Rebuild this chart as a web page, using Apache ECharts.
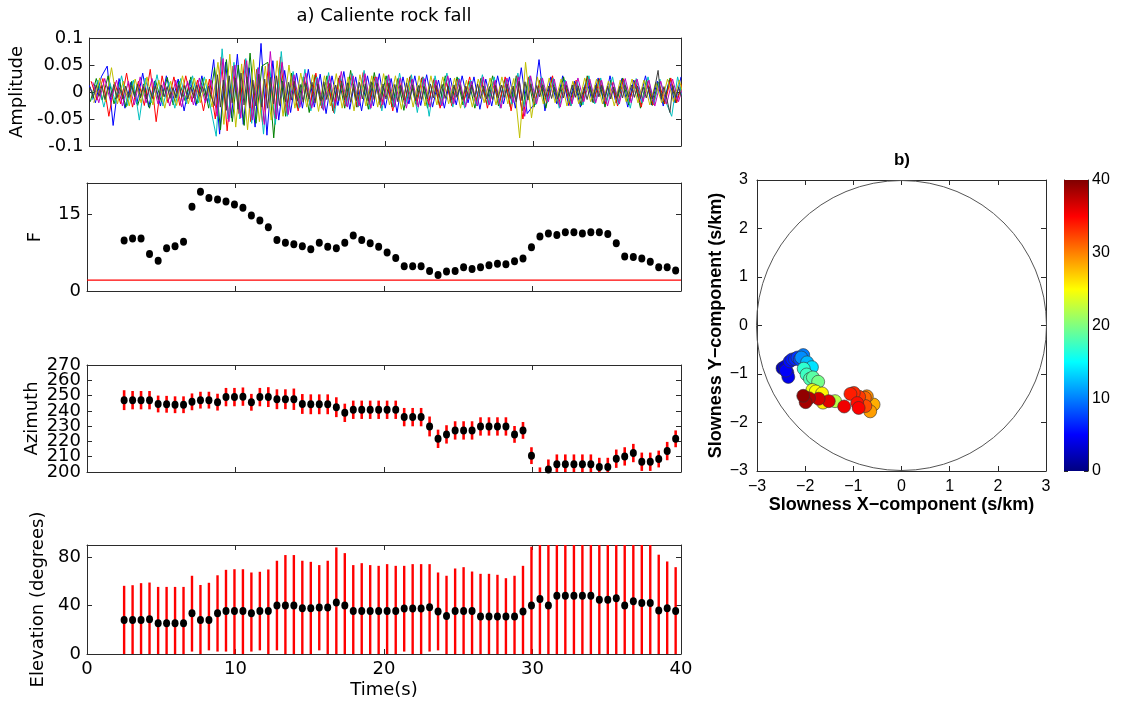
<!DOCTYPE html>
<html>
<head>
<meta charset="utf-8">
<title>Caliente rock fall</title>
<script src="https://cdn.jsdelivr.net/npm/echarts@6/dist/echarts.min.js"></script>
<style>
  html, body { margin: 0; padding: 0; background: #fff; }
  #chart { width: 1122px; height: 703px; }
</style>
</head>
<body>
<div id="chart"></div>
<script>
// ---- beam-forming estimates, one per analysis window (s) ----
const times = [2.5, 3.07, 3.64, 4.21, 4.79, 5.36, 5.93, 6.5, 7.07, 7.64,
  8.21, 8.79, 9.36, 9.93, 10.5, 11.07, 11.64, 12.21, 12.79, 13.36,
  13.93, 14.5, 15.07, 15.64, 16.21, 16.79, 17.36, 17.93, 18.5, 19.07,
  19.64, 20.21, 20.79, 21.36, 21.93, 22.5, 23.07, 23.64, 24.21, 24.79,
  25.36, 25.93, 26.5, 27.07, 27.64, 28.21, 28.79, 29.36, 29.93, 30.5,
  31.07, 31.64, 32.21, 32.79, 33.36, 33.93, 34.5, 35.07, 35.64, 36.21,
  36.79, 37.36, 37.93, 38.5, 39.07, 39.64];

const fStat = [9.8, 10.2, 10.2, 7.2, 5.9, 8.3, 8.7, 9.6, 16.4, 19.3,
  18.1, 17.8, 17.4, 16.8, 16.2, 14.7, 13.7, 12.4, 9.9, 9.4,
  9.1, 8.7, 8.1, 9.4, 8.6, 8.3, 9.4, 10.8, 9.9, 9.3,
  8.6, 7.5, 6.4, 4.8, 4.8, 4.8, 3.9, 3.1, 3.8, 3.9,
  4.6, 4.3, 4.6, 5.0, 5.3, 5.2, 5.8, 6.3, 8.5, 10.6,
  11.2, 10.9, 11.4, 11.4, 11.2, 11.4, 11.4, 11.1, 9.3, 6.7,
  6.6, 6.3, 5.7, 4.6, 4.6, 4.0];
const fThreshold = 2.1;

const azimuth = [247, 247, 247, 247, 244.5, 244.3, 244, 244, 245.9, 247,
  247, 245.7, 249, 249, 249.3, 245.6, 249, 249, 247.6, 247.6,
  247.6, 244.5, 244.3, 244.3, 244.3, 242.4, 238.7, 240.7, 240.7, 240.7,
  240.7, 240.7, 240.7, 235.9, 235.9, 235.9, 229.8, 221.7, 224.6, 227.2,
  227.2, 227.2, 229.8, 229.8, 229.8, 229.8, 224.6, 227.2, 210.7, 197,
  201.7, 205, 205, 205, 205, 205, 203.3, 203.3, 208.7, 210.2,
  212.4, 206.7, 206.7, 208.5, 213.7, 221.7];
const azimuthErr = [6.5, 6, 6, 6, 5.5, 5.5, 5.5, 5.5, 5.5, 5.5,
  5.5, 5.5, 6, 6, 6, 5.5, 6, 6.5, 6.5, 6.5,
  7, 6.5, 6.5, 6.5, 6.5, 6.5, 6, 6, 6, 6,
  6, 6, 6, 6, 6, 6, 6.5, 6, 6, 6,
  6, 6, 6, 6, 6, 6, 5.5, 5.5, 5.5, 6,
  6.5, 6.5, 6.5, 6.5, 6.5, 6.5, 6, 6, 6, 6,
  6, 6, 6, 5.5, 6, 5.5];
const azimuthTicks = [200, 210, 220, 230, 240, 250, 260, 270];

const elevation = [28.1, 28, 28, 28.7, 25.4, 25.4, 25.4, 25.4, 33.7, 28.1,
  28.1, 33.7, 35.6, 35.6, 35.6, 33.7, 35.6, 35.6, 40, 40,
  40, 37.8, 37.8, 38.3, 38.3, 42.5, 40, 35.6, 35.6, 35.6,
  35.6, 35.6, 35.6, 37.5, 37.5, 37.5, 38.6, 35, 31.4, 35.6,
  35.6, 35.6, 30.9, 30.9, 30.9, 30.9, 30.9, 35, 40, 45.5,
  40, 48, 48, 48, 48, 48, 44.7, 44.7, 46, 40,
  43.6, 42.2, 42.2, 35.9, 37.8, 35.6];
const elevationHigh = [56.3, 56.8, 58.5, 59, 55.4, 55.4, 55.4, 55.4, 64.6, 57,
  58.8, 65, 69.5, 70, 70, 67.3, 67.9, 69.8, 77, 81.7,
  81.7, 77, 76.1, 73.4, 77, 88, 83.3, 73.4, 75, 73.4,
  72.8, 74.2, 72.8, 72.8, 74.2, 74.2, 74.2, 67.3, 64.6, 70.6,
  71.7, 68.1, 66.2, 66.2, 65.4, 62.6, 64.6, 72.8, 88.6, 95,
  95, 95, 95, 95, 95, 95, 95, 95, 95, 95,
  95, 95, 95, 82, 76.4, 71.7];
const elevationLow = [0, 0, 0, 0, 0, 0, 0, 0, 2, 0,
  3, 2, 2, 0, 0, 2, 3, 0, 3, 0,
  0, 0, 0, 3, 0, 0, 0, 0, 0, 0,
  0, 0, 0, 2, 0, 0, 2, 3, 0, 0,
  0, 0, 0, 0, 0, 0, 0, 0, 0, 0,
  0, 0, 0, 0, 0, 0, 0, 0, 0, 0,
  0, 0, 0, 0, 0, 0];

// ---- array waveforms (amplitude in thousandths) ----
const traceScale = 0.001;
const traceStep = [0.4, 0.4, 0.4, 0.4, 0.4, 0.4, 0.2];
const traceStart = [0, 0.06, 0.11, 0.17, 0.23, 0.29, 0.05];
const traceColors = ['#0000ff', '#008000', '#ff0000', '#00bfbf', '#bf00bf', '#bfbf00', '#404040'];
const traceBlue = [12, -20, 28, 48, -62, 25, -30, 18, -22, 35, -28, 20, -26, 30, -18, 24, -35, 22, -25, 30, -20,
  60, -78, 55, -48, 70, -60, 45, -65, 90, -80, 58, -52, 40,
  -38, 35, -30, 42, -28, 33, -40, 30, -25, 38, -32, 28, -35, 30, -26, 34, -30, 25, -38, 28, -22, 30,
  -25, 32, -28, 22, -30, 26, -24, 30, -20, 28, -32, 24, -26, 30, -22, 28,
  -30, 45, -40,
  -25, 60, -35, 28, -22, 30, -25, 20, -28, 24, -18, 26, -22, 30, -20, 25, -28, 22, -18, 30, -24, 20, -26, 22, -20, 28];
const traceGreen = [-18, 25, -15, 30, -22, 18, -28, 20, -25, 15, -30, 22, -18, 27, -24, 20, -16, 28, -22, 25, -30,
  45, -70, 60, -55, 50, -62, 72, -58, 48, 55, -85, 50, -45,
  35, -30, 28, -38, 32, -25, 30, -35, 26, -30, 40, -28, 22, -32, 36, -24, 30, -28, 25, -34, 28, -22,
  26, -30, 22, -25, 30, -20, 28, -24, 20, -30, 25, -22, 30, -26, 22, -28,
  30, -35, 25,
  -28, 22, -30, 25, -20, 28, -22, 18, -25, 30, -20, 24, -28, 22, -18, 26, -24, 20, -30, 22, -25, 18, -22, 26, -20, 15];
const traceRed = [20, -15, 25, -45, 18, -22, 35, -28, 20, -25, 42, -55, 30, -20, 28, -25, 30, -18, 22, -35, 24,
  -50, 65, -72, 48, -40, 60, -55, 42, -60, 52, -48, 65, -38,
  30, -35, 28, -25, 35, -30, 22, -38, 30, -26, 32, -28, 36, -24, 28, -30, 22, -35, 26, -22, 30, -25,
  28, -22, 25, -30, 20, -26, 24, -18, 28, -22, 26, -30, 20, -24, 28, -35,
  30, -50, 28,
  -22, 25, -20, 30, -24, 18, -26, 22, -20, 28, -18, 25, -22, 20, -26, 24, -18, 22, -28, 20, -24, 18, -22, 26, -20, 18];
const traceCyan = [-15, 22, -28, 18, -20, 30, -25, 22, -52, 26, -20, 32, -26, 18, -30, 25, -22, 30, -20, 28, -26,
  -82, 80, -50, 55, -50, 62, -58, 45, -78, 52, -60, 75, -45,
  38, -30, 42, -35, 28, -32, 36, -40, 30, -26, 34, -28, 40, -32, 26, -35, 30, -28, 35, -26, 32, -38,
  28, -45, 30, -24, 35, -28, 26, -30, 22, -26, 32, -24, 28, -30, 24, -22,
  35, -28, 30,
  -24, 28, -20, 25, -30, 22, -26, 20, -24, 30, -22, 26, -20, 28, -24, 22, -30, 25, -20, 28, -22, 24, -18, -45, 28, -18];
const traceMagenta = [18, -20, 25, -18, 22, -26, 20, -24, 28, -20, 25, -22, 18, -26, 22, -28, 20, -24, 26, -20, 22,
  -45, 62, -55, 50, -48, 58, -52, 45, -60, 75, -50, 55, -42,
  32, -28, 35, -30, 26, -34, 30, -25, 38, -28, 30, -26, 34, -30, 28, -24, 32, -28, 26, -30, 24, -28,
  25, -28, 22, -26, 30, -22, 24, -28, 20, -26, 28, -24, 22, -30, 26, -20,
  28, -45, 30,
  -22, 26, -18, 24, -28, 20, -22, 26, -18, 24, -20, 22, -26, 18, -22, 25, -20, 24, -18, 22, -26, 20, -22, 24, -18, 20];
const traceYellow = [-20, 26, -18, 45, -22, 20, -26, 24, -20, 28, -24, 22, -30, 20, -25, 30, -22, 26, -20, 24, -28,
  55, -60, 70, -65, 52, -70, 60, -55, 48, -52, 58, -45, 50,
  -30, 35, -28, 32, -36, 30, -26, 34, -30, 28, -35, 32, -26, 30, -28, 34, -24, 30, -32, 26, -28, 30,
  -26, 30, -24, 28, -22, 26, -30, 22, -28, 24, -20, 26, -24, 28, -22, 25,
  -85, 55, -48,
  28, -22, 26, -20, 24, -26, 20, -22, 26, -18, 24, -22, 20, -26, 22, -18, 24, -20, 22, -24, 18, -20, 24, -18, 22, -20];
const traceGray = [9, -11, 13, -8, 12, -14, 10, -9, 14, -12, 8, -13, 11, -10, 12, -9, 14, -11, 10, -13,
  9, -12, 11, -14, 13, -9, 10, -12, 8, -11, 14, -10, 12, -13, 9, -11, 13, -8, 10, -12, 11, -9,
  -25, 32, -28, 22, -34, 30, -20, 26, -32, 35, -24, 28, -30, 22, -26, 33, -28, 24, -30, 27, -22, 30, -25, 20, -18,
  18, -15, 20, -17, 14, -19, 16, -13, 18, -20, 15, -17, 19, -14, 16, -18, 13, -16, 20, -15,
  17, -19, 14, -16, 18, -13, 15, -17, 19, -14, 16, -18, 15, -13, 17, -16, 14, -18, 12, -15, 17, -14, 13, -16,
  12, -14, 10, -13, 15, -11, 12, -10, 14, -12, 11, -15, 13, -10, 12, -14, 11, -12, 13, -10,
  15, -12, 11, -13, 10, -14, 12, -11, 13, -10, 14, -12, 11,
  -18, 20, -16, 19, -15, 14,
  -11, 12, -9, 13, -10, 11, -12, 9, -13, 10, -11, 12, -8, 13, -10, 11, -12, 9, -14, 10,
  -11, 13, -9, 12, -10, 11, -13, 9, -12, 10, -11, 12, -9, 13, -10, 11, -12, 9, -11, 10,
  -13, 11, 40, -12, 10, -14, -38, 12, -10, 9, -11];
const traces = [traceBlue, traceGreen, traceRed, traceCyan, traceMagenta, traceYellow, traceGray];

// ---- slowness vectors (s/km) coloured by window time (s) ----
const slowX = [-2.47, -2.42, -2.37, -2.35, -2.40, -2.32, -2.27, -2.21, -2.16, -2.11,
  -2.04, -2.08, -1.96, -1.86, -2.03, -1.97, -1.90, -1.84, -1.73, -1.38,
  -1.85, -1.78, -1.65, -1.63, -0.58, -0.65, -0.72, -0.76, -0.75, -0.88,
  -0.99, -1.06, -0.92, -0.89, -1.19, -1.51, -1.72, -1.92, -1.99, -2.04];
const slowY = [-0.88, -0.85, -0.97, -1.06, -0.93, -0.74, -0.70, -0.69, -0.66, -0.70,
  -0.61, -0.66, -0.76, -0.86, -0.89, -1.01, -1.10, -1.07, -1.16, -1.56,
  -1.33, -1.36, -1.40, -1.59, -1.63, -1.77, -1.46, -1.49, -1.66, -1.47,
  -1.39, -1.41, -1.60, -1.70, -1.67, -1.56, -1.51, -1.50, -1.58, -1.45];
const slowTime = [2.5, 3.1, 3.6, 4.2, 4.8, 5.4, 6.0, 6.5, 7.1, 7.6,
  9.9, 10.5, 12.2, 13.9, 16.8, 17.4, 18.0, 18.5, 19.6, 22.2,
  24.2, 24.8, 25.4, 26.0, 28.2, 28.8, 29.4, 31.0, 32.2, 32.8,
  33.4, 33.9, 34.5, 35.1, 35.6, 36.2, 36.8, 37.9, 38.5, 39.3];
const slownessRadius = 3;
const timeColorMax = 40;
const jetColors = ['#000080', '#0000ff', '#0080ff', '#00ffff', '#80ff80', '#ffff00', '#ff8000', '#ff0000', '#800000'];

// ---- styling ----
const AXIS = '#2b2b2b';
const LEFT_FONT = 'DejaVu Sans';
const RIGHT_FONT = 'Liberation Sans';
const minusSign = v => (v < 0 ? '\u2212' + Math.abs(v) : String(v));

function axisBase(extra) {
  return Object.assign({
    type: 'value',
    axisLine: { show: true, onZero: false, lineStyle: { color: AXIS, width: 1 } },
    axisTick: { show: true, inside: true, length: 5, lineStyle: { color: AXIS, width: 1 } },
    axisLabel: { show: false },
    splitLine: { show: false }
  }, extra);
}
const leftLabel = { show: true, fontFamily: LEFT_FONT, fontSize: 18, color: '#000', margin: 6, showMinLabel: true, showMaxLabel: true };
const leftName = { fontFamily: LEFT_FONT, fontSize: 18, color: '#000' };
const rightLabel = { show: true, fontFamily: RIGHT_FONT, fontSize: 16, color: '#000', showMinLabel: true, showMaxLabel: true };
const rightName = { fontFamily: RIGHT_FONT, fontSize: 18, fontWeight: 'bold', color: '#000' };

const grids = [
  { left: 87, top: 38, width: 594, height: 108 },   // waveforms
  { left: 87, top: 183, width: 594, height: 108 },  // F statistic
  { left: 87, top: 365, width: 594, height: 107 },  // azimuth
  { left: 87, top: 545, width: 594, height: 109 },  // elevation
  { left: 757, top: 180, width: 289, height: 291 }, // slowness plane
  { left: 1064, top: 180, width: 24, height: 291 }  // colour bar
];

// time axes: bottom + mirrored top for each of the four left panels
const xAxes = [];
for (let g = 0; g < 4; g++) {
  const bottom = axisBase({ gridIndex: g, position: 'bottom', min: 0, max: 40, interval: 10 });
  if (g === 3) {
    bottom.axisLabel = leftLabel;
    bottom.name = 'Time(s)';
    bottom.nameLocation = 'middle';
    bottom.nameGap = 27;
    bottom.nameTextStyle = leftName;
  }
  xAxes.push(bottom);
  xAxes.push(axisBase({ gridIndex: g, position: 'top', min: 0, max: 40, interval: 10 }));
}
xAxes.push(axisBase({
  gridIndex: 4, position: 'bottom', min: -3, max: 3, interval: 1,
  axisLabel: Object.assign({ formatter: minusSign, margin: 8 }, rightLabel),
  name: 'Slowness X\u2212component (s/km)', nameLocation: 'middle', nameGap: 25, nameTextStyle: rightName
}));
xAxes.push(axisBase({ gridIndex: 4, position: 'top', min: -3, max: 3, interval: 1 }));
xAxes.push({ type: 'category', gridIndex: 5, data: ['t'], show: false });

// the azimuth labels are tightly packed, so they are drawn by their own text series
const yLeftSpecs = [
  { min: -0.1, max: 0.1, interval: 0.05, name: 'Amplitude', gap: 63 },
  { min: 0, max: 21, interval: 15, name: 'F', gap: 43, only: [0, 15] },
  { min: 200, max: 270, interval: 10, name: 'Azimuth', gap: 46, noLabels: true },
  { min: 0, max: 90, interval: 40, name: 'Elevation (degrees)', gap: 37, only: [0, 40, 80] }
];
const yAxes = [];
yLeftSpecs.forEach((s, g) => {
  const label = Object.assign({}, leftLabel);
  if (s.only) label.formatter = v => (s.only.indexOf(v) >= 0 ? String(v) : '');
  if (s.noLabels) label.show = false;
  yAxes.push(axisBase({
    gridIndex: g, position: 'left', min: s.min, max: s.max, interval: s.interval,
    axisLabel: label, name: s.name, nameLocation: 'middle', nameGap: s.gap, nameTextStyle: leftName
  }));
  yAxes.push(axisBase({ gridIndex: g, position: 'right', min: s.min, max: s.max, interval: s.interval }));
});
yAxes.push(axisBase({
  gridIndex: 4, position: 'left', min: -3, max: 3, interval: 1,
  axisLabel: Object.assign({ formatter: minusSign, margin: 9 }, rightLabel),
  name: 'Slowness Y\u2212component (s/km)', nameLocation: 'middle', nameGap: 32, nameTextStyle: rightName
}));
yAxes.push(axisBase({ gridIndex: 4, position: 'right', min: -3, max: 3, interval: 1 }));
yAxes.push(axisBase({ gridIndex: 5, position: 'left', min: 0, max: timeColorMax, interval: 10, axisTick: { show: true, inside: true, length: 4, lineStyle: { color: AXIS } } }));
yAxes.push(axisBase({
  gridIndex: 5, position: 'right', min: 0, max: timeColorMax, interval: 10,
  axisTick: { show: true, inside: true, length: 4, lineStyle: { color: AXIS } },
  axisLabel: Object.assign({ margin: 4 }, rightLabel)
}));

// vertical error bar drawn between value dims 1 and 2
function errorBar(width) {
  return function (params, api) {
    const t = api.value(0);
    const p1 = api.coord([t, api.value(1)]);
    const p2 = api.coord([t, api.value(2)]);
    return {
      type: 'line',
      shape: { x1: p1[0], y1: p1[1], x2: p2[0], y2: p2[1] },
      style: { stroke: '#ff0000', lineWidth: width }
    };
  };
}
const dot = { color: '#000', opacity: 1 };

const series = [];

// waveforms
traces.forEach((tr, k) => {
  series.push({
    type: 'line', xAxisIndex: 0, yAxisIndex: 0, silent: true,
    showSymbol: false, symbol: 'none', clip: true,
    lineStyle: { color: traceColors[k], width: 1 },
    data: tr.map((v, i) => [traceStart[k] + i * traceStep[k], v * traceScale])
  });
});

// F statistic with its threshold
series.push({
  type: 'line', xAxisIndex: 2, yAxisIndex: 2, symbol: 'none', silent: true,
  lineStyle: { color: '#ff0000', width: 1.2 },
  data: [[0, fThreshold], [40, fThreshold]]
});
series.push({
  type: 'scatter', xAxisIndex: 2, yAxisIndex: 2, symbol: 'circle', symbolSize: [7, 8],
  itemStyle: dot,
  data: times.map((t, i) => [t, fStat[i]])
});

// azimuth with error bars
series.push({
  type: 'custom', xAxisIndex: 4, yAxisIndex: 4, clip: true, silent: true,
  renderItem: errorBar(2.6), encode: { x: 0, y: [1, 2] },
  data: times.map((t, i) => [t, azimuth[i] - azimuthErr[i], azimuth[i] + azimuthErr[i]])
});
series.push({
  type: 'scatter', xAxisIndex: 4, yAxisIndex: 4, symbol: 'circle', symbolSize: [7, 8], clip: true,
  itemStyle: dot,
  data: times.map((t, i) => [t, azimuth[i]])
});
series.push({
  type: 'custom', xAxisIndex: 4, yAxisIndex: 4, clip: false, silent: true,
  encode: { x: 0, y: 1 },
  renderItem: function (params, api) {
    const c = api.coord([api.value(0), api.value(1)]);
    return {
      type: 'text', x: c[0] - 6, y: c[1],
      style: { text: String(api.value(1)), font: '18px "DejaVu Sans"', fill: '#000', textAlign: 'right', textVerticalAlign: 'middle' }
    };
  },
  data: azimuthTicks.map(v => [0, v])
});

// elevation with error bars
series.push({
  type: 'custom', xAxisIndex: 6, yAxisIndex: 6, clip: true, silent: true,
  renderItem: errorBar(2.4), encode: { x: 0, y: [1, 2] },
  data: times.map((t, i) => [t, elevationLow[i], elevationHigh[i]])
});
series.push({
  type: 'scatter', xAxisIndex: 6, yAxisIndex: 6, symbol: 'circle', symbolSize: [7, 8],
  itemStyle: dot,
  data: times.map((t, i) => [t, elevation[i]])
});

// slowness plane: reference circle and windows coloured by time
series.push({
  type: 'custom', xAxisIndex: 8, yAxisIndex: 8, silent: true, z: 1,
  encode: { x: 0, y: 1 },
  renderItem: function (params, api) {
    const c = api.coord([api.value(0), api.value(1)]);
    const s = api.size([api.value(2), api.value(2)]);
    return {
      type: 'circle',
      shape: { cx: c[0], cy: c[1], r: (s[0] + s[1]) / 2 },
      style: { fill: 'none', stroke: '#555', lineWidth: 1 }
    };
  },
  data: [[0, 0, slownessRadius]]
});
const slownessSeriesIndex = series.length;
series.push({
  type: 'scatter', xAxisIndex: 8, yAxisIndex: 8, symbol: 'circle', symbolSize: 13, z: 3,
  itemStyle: { borderColor: '#333', borderWidth: 0.6, opacity: 1 },
  data: slowX.map((x, i) => [x, slowY[i], slowTime[i]])
});

// colour bar
series.push({
  type: 'bar', xAxisIndex: 10, yAxisIndex: 10, barWidth: '100%', silent: true,
  itemStyle: {
    color: new echarts.graphic.LinearGradient(0, 1, 0, 0,
      jetColors.map((c, i) => ({ offset: i / (jetColors.length - 1), color: c })))
  },
  data: [timeColorMax]
});

const chart = echarts.init(document.getElementById('chart'), null, { renderer: 'canvas' });
chart.setOption({
  animation: false,
  backgroundColor: '#fff',
  grid: grids,
  xAxis: xAxes,
  yAxis: yAxes,
  visualMap: {
    show: false, type: 'continuous', min: 0, max: timeColorMax, dimension: 2,
    seriesIndex: slownessSeriesIndex, inRange: { color: jetColors }
  },
  graphic: [
    { type: 'text', x: 384, y: 16, style: { text: 'a) Caliente rock fall', font: '18px "DejaVu Sans"', fill: '#000', textAlign: 'center', textVerticalAlign: 'middle' } },
    { type: 'text', x: 902, y: 160, style: { text: 'b)', font: 'bold 17px "Liberation Sans"', fill: '#000', textAlign: 'center', textVerticalAlign: 'middle' } }
  ],
  series: series
});
</script>
</body>
</html>
